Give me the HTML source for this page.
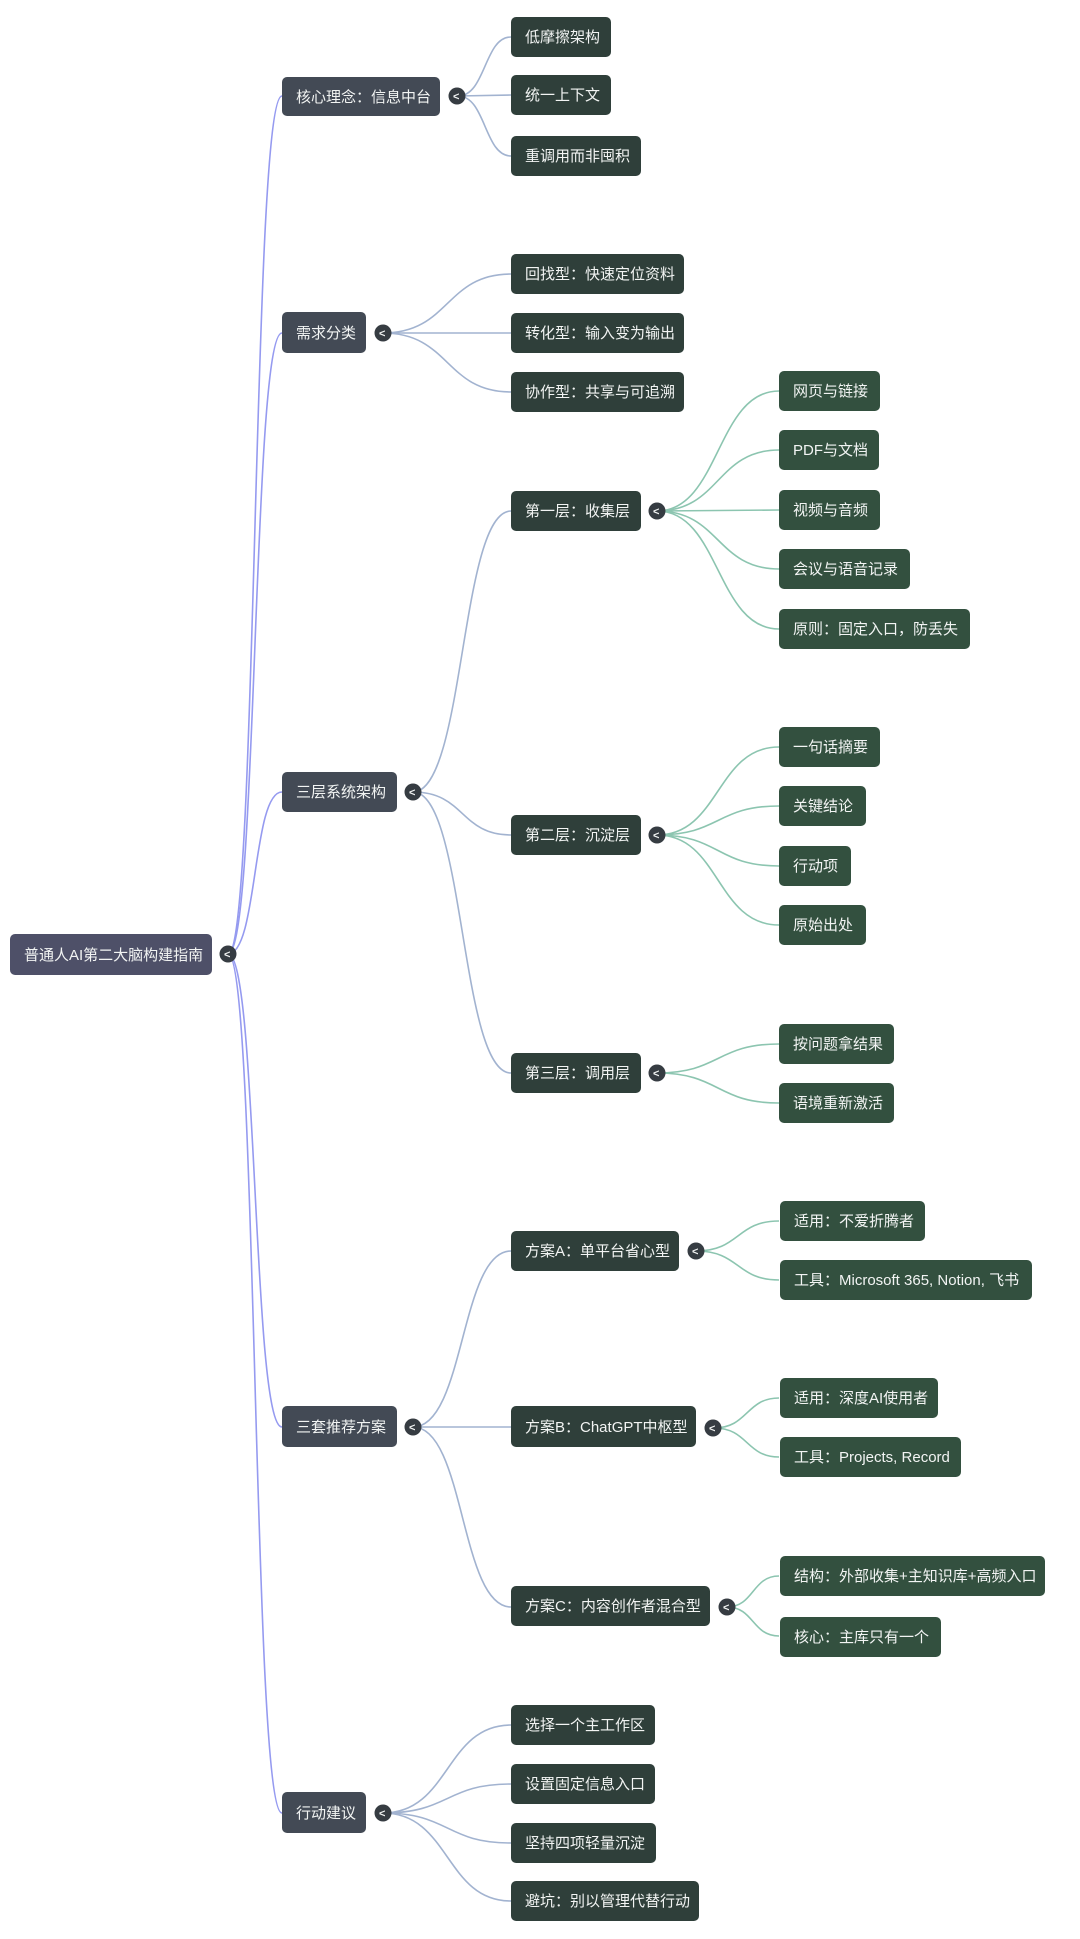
<!DOCTYPE html>
<html><head><meta charset="utf-8"><style>
html,body{margin:0;padding:0;background:#fff;}
svg{display:block;}
text{font-family:"Liberation Sans","Noto Sans CJK SC",sans-serif;font-size:15px;fill:#f2f4f3;}
.r{fill:#4e5068;}
.l1{fill:#434a55;}
.l2{fill:#2f3f3a;}
.l3{fill:#33503f;}
.t circle{fill:#363c42;}
.t text{font-size:11px;font-weight:bold;}
</style></head><body>
<svg width="1080" height="1939" viewBox="0 0 1080 1939" xmlns="http://www.w3.org/2000/svg">
<g fill="none" stroke-width="1.6">
<g stroke="#959af0">
<path d="M228,954 C258,954 252,96 282,96"/>
<path d="M228,954 C258,954 252,333 282,333"/>
<path d="M228,954 C258,954 252,792 282,792"/>
<path d="M228,954 C258,954 252,1427 282,1427"/>
<path d="M228,954 C258,954 252,1813 282,1813"/>
</g>
<g stroke="#a2b3d0">
<path d="M458,96 C486,96 484,37 511,37"/>
<path d="M458,96 L511,95"/>
<path d="M458,96 C486,96 484,156 511,156"/>
<path d="M383,333 C450,333 445,274 511,274"/>
<path d="M383,333 L511,333"/>
<path d="M383,333 C450,333 445,392 511,392"/>
<path d="M413,792 C465,792 460,511 511,511"/>
<path d="M413,792 C465,792 460,835 511,835"/>
<path d="M413,792 C465,792 460,1073 511,1073"/>
<path d="M413,1427 C465,1427 460,1251 511,1251"/>
<path d="M413,1427 L511,1427"/>
<path d="M413,1427 C465,1427 460,1607 511,1607"/>
<path d="M383,1813 C450,1813 445,1725 511,1725"/>
<path d="M383,1813 C450,1813 445,1784 511,1784"/>
<path d="M383,1813 C450,1813 445,1843 511,1843"/>
<path d="M383,1813 C450,1813 445,1901 511,1901"/>
</g>
<g stroke="#8cc5b0">
<path d="M657,511 C720,511 716,391 779,391"/>
<path d="M657,511 C720,511 716,450 779,450"/>
<path d="M657,511 L779,510"/>
<path d="M657,511 C720,511 716,569 779,569"/>
<path d="M657,511 C720,511 716,629 779,629"/>
<path d="M657,835 C720,835 716,747 779,747"/>
<path d="M657,835 C720,835 716,806 779,806"/>
<path d="M657,835 C720,835 716,866 779,866"/>
<path d="M657,835 C720,835 716,925 779,925"/>
<path d="M657,1073 C720,1073 716,1044 779,1044"/>
<path d="M657,1073 C720,1073 716,1103 779,1103"/>
<path d="M696,1251 C740,1251 736,1221 779,1221"/>
<path d="M696,1251 C740,1251 736,1280 779,1280"/>
<path d="M714,1428 C748,1428 746,1398 779,1398"/>
<path d="M714,1428 C748,1428 746,1457 779,1457"/>
<path d="M727,1607 C754,1607 752,1576 779,1576"/>
<path d="M727,1607 C754,1607 752,1636 779,1636"/>
</g>
</g>

<rect class="r" x="10" y="934" width="202" height="41" rx="5"/><text x="24" y="960">普通人AI第二大脑构建指南</text>

<rect class="l1" x="282" y="77" width="158" height="39" rx="5"/><text x="296" y="102">核心理念：信息中台</text>
<rect class="l1" x="282" y="312" width="84" height="41" rx="5"/><text x="296" y="338">需求分类</text>
<rect class="l1" x="282" y="772" width="115" height="40" rx="5"/><text x="296" y="797">三层系统架构</text>
<rect class="l1" x="282" y="1406" width="115" height="41" rx="5"/><text x="296" y="1432">三套推荐方案</text>
<rect class="l1" x="282" y="1792" width="84" height="41" rx="5"/><text x="296" y="1818">行动建议</text>

<rect class="l2" x="511" y="17" width="100" height="40" rx="5"/><text x="525" y="42">低摩擦架构</text>
<rect class="l2" x="511" y="75" width="100" height="40" rx="5"/><text x="525" y="100">统一上下文</text>
<rect class="l2" x="511" y="136" width="130" height="40" rx="5"/><text x="525" y="161">重调用而非囤积</text>
<rect class="l2" x="511" y="254" width="173" height="40" rx="5"/><text x="525" y="279">回找型：快速定位资料</text>
<rect class="l2" x="511" y="313" width="173" height="40" rx="5"/><text x="525" y="338">转化型：输入变为输出</text>
<rect class="l2" x="511" y="372" width="173" height="40" rx="5"/><text x="525" y="397">协作型：共享与可追溯</text>
<rect class="l2" x="511" y="491" width="130" height="40" rx="5"/><text x="525" y="516">第一层：收集层</text>
<rect class="l2" x="511" y="815" width="130" height="40" rx="5"/><text x="525" y="840">第二层：沉淀层</text>
<rect class="l2" x="511" y="1053" width="130" height="40" rx="5"/><text x="525" y="1078">第三层：调用层</text>
<rect class="l2" x="511" y="1231" width="168" height="40" rx="5"/><text x="525" y="1256">方案A：单平台省心型</text>
<rect class="l2" x="511" y="1406" width="185" height="41" rx="5"/><text x="525" y="1432">方案B：ChatGPT中枢型</text>
<rect class="l2" x="511" y="1586" width="199" height="40" rx="5"/><text x="525" y="1611">方案C：内容创作者混合型</text>
<rect class="l2" x="511" y="1705" width="144" height="40" rx="5"/><text x="525" y="1730">选择一个主工作区</text>
<rect class="l2" x="511" y="1764" width="144" height="40" rx="5"/><text x="525" y="1789">设置固定信息入口</text>
<rect class="l2" x="511" y="1823" width="145" height="40" rx="5"/><text x="525" y="1848">坚持四项轻量沉淀</text>
<rect class="l2" x="511" y="1881" width="188" height="40" rx="5"/><text x="525" y="1906">避坑：别以管理代替行动</text>

<rect class="l3" x="779" y="371" width="101" height="40" rx="5"/><text x="793" y="396">网页与链接</text>
<rect class="l3" x="779" y="430" width="100" height="40" rx="5"/><text x="793" y="455">PDF与文档</text>
<rect class="l3" x="779" y="490" width="101" height="40" rx="5"/><text x="793" y="515">视频与音频</text>
<rect class="l3" x="779" y="549" width="131" height="40" rx="5"/><text x="793" y="574">会议与语音记录</text>
<rect class="l3" x="779" y="609" width="191" height="40" rx="5"/><text x="793" y="634">原则：固定入口，防丢失</text>
<rect class="l3" x="779" y="727" width="101" height="40" rx="5"/><text x="793" y="752">一句话摘要</text>
<rect class="l3" x="779" y="786" width="87" height="40" rx="5"/><text x="793" y="811">关键结论</text>
<rect class="l3" x="779" y="846" width="72" height="40" rx="5"/><text x="793" y="871">行动项</text>
<rect class="l3" x="779" y="905" width="87" height="40" rx="5"/><text x="793" y="930">原始出处</text>
<rect class="l3" x="779" y="1024" width="115" height="40" rx="5"/><text x="793" y="1049">按问题拿结果</text>
<rect class="l3" x="779" y="1083" width="115" height="40" rx="5"/><text x="793" y="1108">语境重新激活</text>
<rect class="l3" x="780" y="1201" width="145" height="40" rx="5"/><text x="794" y="1226">适用：不爱折腾者</text>
<rect class="l3" x="780" y="1260" width="252" height="40" rx="5"/><text x="794" y="1285">工具：Microsoft 365, Notion, 飞书</text>
<rect class="l3" x="780" y="1378" width="158" height="40" rx="5"/><text x="794" y="1403">适用：深度AI使用者</text>
<rect class="l3" x="780" y="1437" width="181" height="40" rx="5"/><text x="794" y="1462">工具：Projects, Record</text>
<rect class="l3" x="780" y="1556" width="265" height="40" rx="5"/><text x="794" y="1581">结构：外部收集+主知识库+高频入口</text>
<rect class="l3" x="780" y="1617" width="161" height="40" rx="5"/><text x="794" y="1642">核心：主库只有一个</text>

<g class="t">
<circle cx="228" cy="954" r="8.5"/><text x="224" y="958">&lt;</text>
<circle cx="457" cy="96" r="8.5"/><text x="453" y="100">&lt;</text>
<circle cx="383" cy="333" r="8.5"/><text x="379" y="337">&lt;</text>
<circle cx="413" cy="792" r="8.5"/><text x="409" y="796">&lt;</text>
<circle cx="413" cy="1427" r="8.5"/><text x="409" y="1431">&lt;</text>
<circle cx="383" cy="1813" r="8.5"/><text x="379" y="1817">&lt;</text>
<circle cx="657" cy="511" r="8.5"/><text x="653" y="515">&lt;</text>
<circle cx="657" cy="835" r="8.5"/><text x="653" y="839">&lt;</text>
<circle cx="657" cy="1073" r="8.5"/><text x="653" y="1077">&lt;</text>
<circle cx="696" cy="1251" r="8.5"/><text x="692" y="1255">&lt;</text>
<circle cx="713" cy="1428" r="8.5"/><text x="709" y="1432">&lt;</text>
<circle cx="727" cy="1607" r="8.5"/><text x="723" y="1611">&lt;</text>
</g>
</svg>
</body></html>
